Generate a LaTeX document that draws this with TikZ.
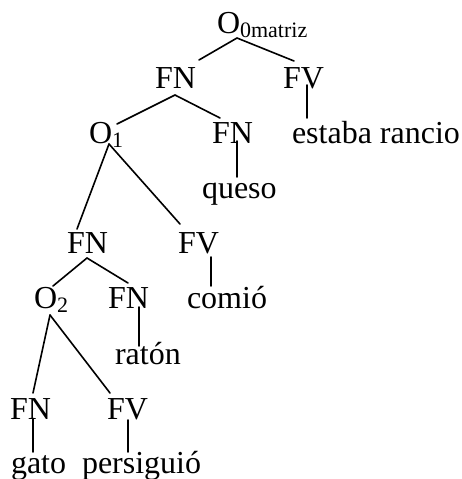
\documentclass[tikz,border=0pt]{standalone}
\usepackage{fontspec}
\setmainfont{Liberation Serif}
\usetikzlibrary{calc}
\newcommand{\subtxt}[1]{\raisebox{-4pt}{\fontsize{22}{22}\selectfont #1}}
\tikzset{
  lbl/.style={anchor=base west, inner sep=0pt, outer sep=0pt, font=\fontsize{32}{36}\selectfont},
  edge/.style={line width=1.6pt, line cap=round}
}
\begin{document}
\begin{tikzpicture}[x=1pt,y=-1pt]
\useasboundingbox (0,0) rectangle (462,479);
% nodes
\node[lbl] (o0) at (217,33) {O\subtxt{0matriz}};
\node[lbl] (fn1) at (155,88) {FN};
\node[lbl] (fv1) at (283,88) {FV};
\node[lbl] (estaba) at (292,143) {estaba rancio};
\node[lbl] (o1) at (89,143) {O\subtxt{1}};
\node[lbl] (fnq) at (212,143) {FN};
\node[lbl] (queso) at (202,198) {queso};
\node[lbl] (fn3) at (67,253) {FN};
\node[lbl] (fvc) at (178,253) {FV};
\node[lbl] (comio) at (187,308.5) {comió};
\node[lbl] (o2) at (34,308.5) {O\subtxt{2}};
\node[lbl] (fnr) at (108,308.5) {FN};
\node[lbl] (raton) at (115,364) {ratón};
\node[lbl] (fng) at (10,419) {FN};
\node[lbl] (fvp) at (107,419) {FV};
\node[lbl] (gato) at (11,473) {gato};
\node[lbl] (persig) at (82,473) {persiguió};
% connectors
\draw[edge] ($(o0.base west)+(20,5)$) -- ($(fn1.base west)+(44,-28)$);
\draw[edge] ($(o0.base west)+(20,5)$) -- ($(fv1.base west)+(11,-27)$);
\draw[edge] ($(fv1.base west)+(24,-3)$) -- ($(estaba.base west)+(15,-25)$);
\draw[edge] ($(fn1.base west)+(20,7)$) -- ($(o1.base west)+(28,-19)$);
\draw[edge] ($(fn1.base west)+(20,7)$) -- ($(fnq.base west)+(8,-25)$);
\draw[edge] ($(fnq.base west)+(25,-2)$) -- ($(queso.base west)+(35,-21)$);
\draw[edge] ($(o1.base west)+(20,1)$) -- ($(fn3.base west)+(10,-24)$);
\draw[edge] ($(o1.base west)+(20,1)$) -- ($(fvc.base west)+(2,-29)$);
\draw[edge] ($(fvc.base west)+(33,4)$) -- ($(comio.base west)+(24,-22.5)$);
\draw[edge] ($(fn3.base west)+(20,5)$) -- ($(o2.base west)+(19,-22.5)$);
\draw[edge] ($(fn3.base west)+(20,5)$) -- ($(fnr.base west)+(20,-25.5)$);
\draw[edge] ($(fnr.base west)+(31,-1.5)$) -- ($(raton.base west)+(24,-18)$);
\draw[edge] ($(o2.base west)+(16,6.5)$) -- ($(fng.base west)+(23,-26)$);
\draw[edge] ($(o2.base west)+(16,6.5)$) -- ($(fvp.base west)+(3,-26)$);
\draw[edge] ($(fng.base west)+(23,0)$) -- ($(gato.base west)+(22,-21)$);
\draw[edge] ($(fvp.base west)+(21,1)$) -- ($(persig.base west)+(46,-21)$);
\end{tikzpicture}
\end{document}
